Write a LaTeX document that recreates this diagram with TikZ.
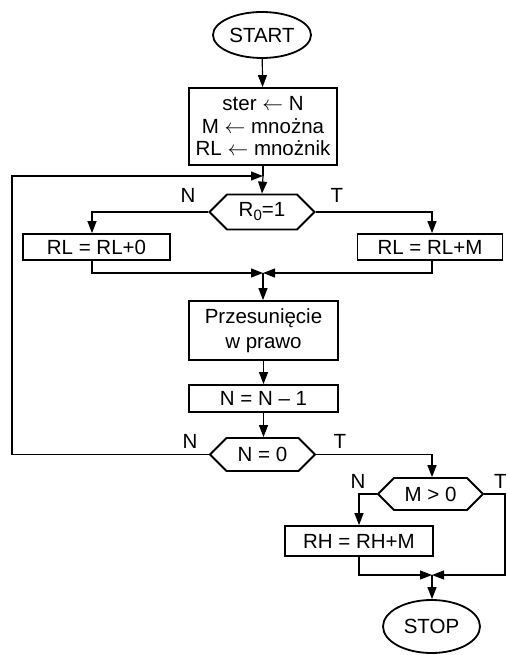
\documentclass[tikz,border=0pt]{standalone}
\usepackage{fontspec}
\setmainfont{Liberation Sans}
\usetikzlibrary{arrows.meta,shapes.geometric,shapes.symbols,calc}
\begin{document}
\begin{tikzpicture}[x=1pt,y=-1pt,
  every node/.style={font=\fontsize{20.5}{22}\selectfont},
  box/.style={draw,line width=1.8pt,inner sep=0pt,align=center},
  term/.style={draw,ellipse,line width=1.8pt,inner sep=0pt},
  hexa/.style={draw,signal,signal to=west and east,signal pointer angle=90,line width=1.8pt,inner sep=0pt,minimum width=105pt},
  arr/.style={line width=1.2pt,-{Triangle[length=12pt,width=9pt]}},
  conn/.style={line width=1.2pt},
  lbl/.style={inner sep=0pt}]
\useasboundingbox (0,0) rectangle (507,655);
\node[term,minimum width=98pt,minimum height=46pt] (start) at (262,35) {START};
\node[box,minimum width=148pt,minimum height=77pt,font=\fontsize{20.5}{22.5}\selectfont] (init) at (263,126.5) {ster $\leftarrow$ N\\M $\leftarrow$ mnożna\\RL $\leftarrow$ mnożnik};
\coordinate (j1) at (263,176);
\node[hexa,minimum height=35pt] (t1) at (262,212) {R\raisebox{-4pt}{\fontsize{15}{15}\selectfont 0}=1};
\node[box,minimum width=147pt,minimum height=26pt] (rl0) at (96.5,247) {RL = RL+0};
\node[box,minimum width=145pt,minimum height=26pt] (rlm) at (430,247) {RL = RL+M};
\coordinate (m1) at (263,273);
\node[box,minimum width=149pt,minimum height=59pt,font=\fontsize{20.5}{25}\selectfont] (sh) at (263.5,330.5) {Przesunięcie\\w prawo};
\node[box,minimum width=149pt,minimum height=27pt] (dec) at (263.5,398.5) {N = N -- 1};
\node[hexa,minimum height=33pt] (t2) at (262.5,454.5) {N = 0};
\node[hexa,minimum height=32pt] (t3) at (430.5,494) {M > 0};
\node[box,minimum width=148pt,minimum height=30pt] (rh) at (359,541) {RH = RH+M};
\coordinate (m2) at (432,575);
\node[term,minimum width=97pt,minimum height=53pt] (stop) at (431.5,626.5) {STOP};
\coordinate (lc) at (12,176);
\coordinate (rc) at (505,575);
% labels
\node[lbl] (n1) at (188,195) {N};
\node[lbl] (tt1) at (337,195) {T};
\node[lbl] (n2) at (190,441) {N};
\node[lbl] (tt2) at (340,441) {T};
\node[lbl] (n3) at (358,481) {N};
\node[lbl] (tt3) at (500.5,481) {T};
% connectors
\draw[arr] (start) -- (init);
\draw[conn] (init.south) -- (j1);
\draw[arr] (j1) -- (t1.north);
\draw[arr] (t2.west) -| (lc) -- (j1);
\draw[arr] (t1.west) -| ($(rl0.north)+(-4.5,0)$);
\draw[arr] (t1.east) -| ($(rlm.north)+(2,0)$);
\draw[arr] ($(rl0.south)+(-4.5,0)$) |- (m1);
\draw[arr] ($(rlm.south)+(2,0)$) |- (m1);
\draw[arr] (m1) -- (sh.north -| m1);
\draw[arr] (sh.south) -- (dec.north);
\draw[arr] (dec.south) -- (t2.north -| dec.south);
\draw[arr] (t2.east) -| (t3.north -| m2);
\draw[arr] (t3.west) -| (rh.north);
\draw[arr] (t3.east) -| (rc) -- (m2);
\draw[arr] (rh.south) |- (m2);
\draw[arr] (m2) -- (stop.north -| m2);
\end{tikzpicture}
\end{document}
